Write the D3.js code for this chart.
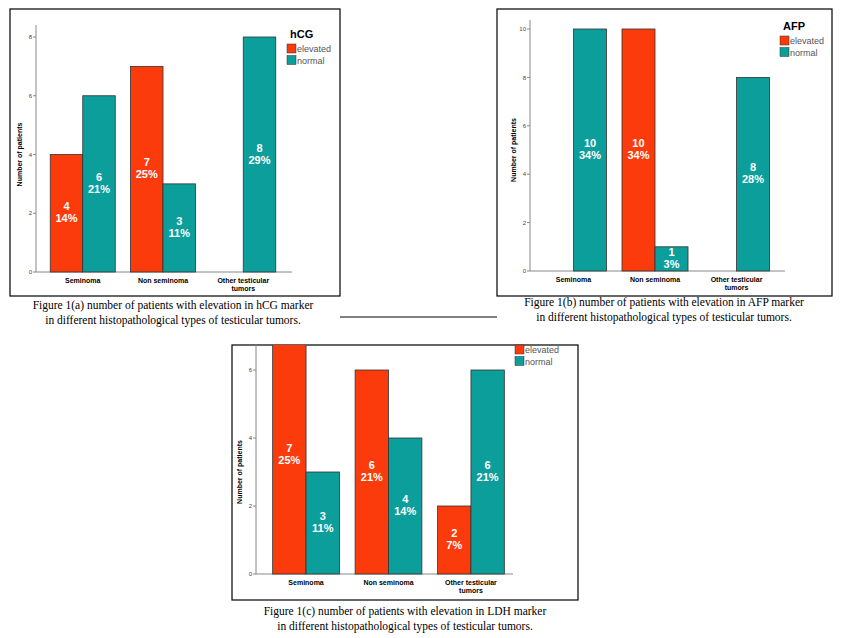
<!DOCTYPE html>
<html><head><meta charset="utf-8">
<script src="https://cdn.jsdelivr.net/npm/d3@7"></script>
<style>body{margin:0;background:#fff}</style>
</head><body>
<script>
// data
var categories = ["Seminoma", "Non seminoma", "Other testicular tumors"];
var series = ["elevated", "normal"];
var hcgElevated = [4, 7, 0], hcgNormal = [6, 3, 8];
var hcgPct = [["14%", "21%"], ["25%", "11%"], ["", "29%"]];
var afpElevated = [0, 10, 0], afpNormal = [10, 1, 8];
var afpPct = [["", "34%"], ["34%", "3%"], ["", "28%"]];
var ldhElevated = [7, 6, 2], ldhNormal = [3, 4, 6];
var ldhPct = [["25%", "11%"], ["21%", "14%"], ["7%", "21%"]];
var hcgTicks = [0, 2, 4, 6, 8], afpTicks = [0, 2, 4, 6, 8, 10], ldhTicks = [0, 2, 4, 6];

var colors = {elevated: "#fb3b0b", normal: "#0b9e9b"};
var svg = d3.select("body").append("svg").attr("width", 841).attr("height", 638);

function drawPanel(o) {
    svg.append("rect").attr("x", o.box[0]).attr("y", o.box[1]).attr("width", o.box[2]).attr("height", o.box[3])
        .attr("fill", "none").attr("stroke", "#000").attr("stroke-width", 1.2);
    var g = svg.append("g");
    var clipId = "clip" + o.id;
    svg.append("clipPath").attr("id", clipId).append("rect")
        .attr("x", o.box[0]).attr("y", o.box[1]).attr("width", o.box[2]).attr("height", o.box[3]);
    var y = d3.scaleLinear().domain([0, o.max]).range([o.base, o.top]);
    var x0 = d3.scaleBand().domain(categories).range([o.x0, o.x1]).padding(0.19);
    var x1 = d3.scaleBand().domain(series).range([0, x0.bandwidth()]);

    // axes
    g.append("line").attr("x1", o.axisX).attr("x2", o.axisX).attr("y1", o.base).attr("y2", o.axisTop).attr("stroke", "#888");
    g.append("line").attr("x1", o.axisX).attr("x2", o.axisRight).attr("y1", o.base).attr("y2", o.base).attr("stroke", "#888");
    o.ticks.forEach(function(t){
        g.append("line").attr("x1", o.axisX - 3).attr("x2", o.axisX).attr("y1", y(t)).attr("y2", y(t)).attr("stroke", "#888");
        g.append("text").attr("x", o.axisX - 4).attr("y", y(t)).attr("dy", "0.35em").attr("text-anchor", "end")
            .attr("font-family", "Arial, Liberation Sans").attr("font-size", 6).attr("fill", "#444").text(t);
    });
    g.append("text").attr("transform", "translate(" + (o.axisX - 14) + "," + ((o.base + o.top) / 2) + ") rotate(-90)")
        .attr("text-anchor", "middle").attr("font-family", "Arial, Liberation Sans").attr("font-size", 7)
        .attr("font-weight", "bold").text("Number of patients");

    var bars = g.append("g").attr("clip-path", "url(#" + clipId + ")");
    categories.forEach(function(c, i){
        [o.elevated[i], o.normal[i]].forEach(function(v, j){
            var s = series[j], bx = x0(c) + x1(s), bw = x1.bandwidth();
            bars.append("rect").attr("x", bx).attr("y", y(v)).attr("width", bw).attr("height", y(0) - y(v))
                .attr("fill", colors[s]).attr("stroke", "#333").attr("stroke-width", 0.8);
            if (v > 0) {
                var ly = (y(v) + y(0)) / 2;
                var lt = g.append("text").attr("x", bx + bw / 2).attr("text-anchor", "middle")
                    .attr("font-family", "Arial, Liberation Sans").attr("font-size", 11).attr("font-weight", "bold").attr("fill", "#fff");
                lt.append("tspan").attr("x", bx + bw / 2).attr("y", ly - 3).text(v);
                lt.append("tspan").attr("x", bx + bw / 2).attr("y", ly + 9).text(o.pct[i][j]);
            }
        });
        var lab = g.append("text").attr("text-anchor", "middle").attr("font-family", "Arial, Liberation Sans")
            .attr("font-size", 7).attr("font-weight", "bold");
        var cx = x0(c) + x0.bandwidth() / 2;
        if (c === "Other testicular tumors") {
            lab.append("tspan").attr("x", cx).attr("y", o.base + 11).text("Other testicular");
            lab.append("tspan").attr("x", cx).attr("y", o.base + 19).text("tumors");
        } else {
            lab.append("tspan").attr("x", cx).attr("y", o.base + 11).text(c);
        }
    });

    // legend
    if (o.title) g.append("text").attr("x", o.leg[0]).attr("y", o.leg[1] - 6).attr("font-family", "Arial, Liberation Sans")
        .attr("font-size", 11).attr("font-weight", "bold").text(o.title);
    series.forEach(function(s, k){
        var ly = o.leg[1] + k * 11.5;
        g.append("rect").attr("x", o.leg[0] - 3).attr("y", ly).attr("width", 9).attr("height", 9)
            .attr("fill", colors[s]).attr("stroke", "#333").attr("stroke-width", 0.5);
        g.append("text").attr("x", o.leg[0] + 7).attr("y", ly + 8).attr("font-family", "Arial, Liberation Sans")
            .attr("font-size", 9).attr("fill", "#555").text(s);
    });

    var cap = svg.append("text").attr("text-anchor", "middle").attr("font-family", "Liberation Serif, Times New Roman")
        .attr("font-size", 11.5);
    cap.append("tspan").attr("x", o.cap[0]).attr("y", o.cap[1]).text(o.caption[0]);
    cap.append("tspan").attr("x", o.cap[0]).attr("y", o.cap[1] + 15).text(o.caption[1]);
}

drawPanel({id: "a", box: [10, 9, 330, 287], max: 8, base: 272, top: 37, axisTop: 25, axisX: 36, axisRight: 292,
    x0: 35, x1: 291, elevated: hcgElevated, normal: hcgNormal, pct: hcgPct, ticks: hcgTicks,
    title: "hCG", leg: [290, 44], cap: [173, 309],
    caption: ["Figure 1(a) number of patients with elevation in hCG marker", "in different histopathological types of testicular tumors."]});
drawPanel({id: "b", box: [497, 9, 335, 287], max: 10, base: 271, top: 29, axisTop: 20, axisX: 530, axisRight: 785,
    x0: 525, x1: 785, elevated: afpElevated, normal: afpNormal, pct: afpPct, ticks: afpTicks,
    title: "AFP", leg: [783, 36], cap: [664, 306],
    caption: ["Figure 1(b) number of patients with elevation in AFP marker", "in different histopathological types of testicular tumors."]});
drawPanel({id: "c", box: [232, 345, 346, 255], max: 6, base: 574, top: 370, axisTop: 345, axisX: 256, axisRight: 513,
    x0: 257, x1: 520, elevated: ldhElevated, normal: ldhNormal, pct: ldhPct, ticks: ldhTicks,
    title: null, leg: [518, 345], cap: [405, 615],
    caption: ["Figure 1(c) number of patients with elevation in LDH marker", "in different histopathological types of testicular tumors."]});

svg.append("line").attr("x1", 340).attr("x2", 497).attr("y1", 317).attr("y2", 317).attr("stroke", "#000");
</script>
</body></html>
